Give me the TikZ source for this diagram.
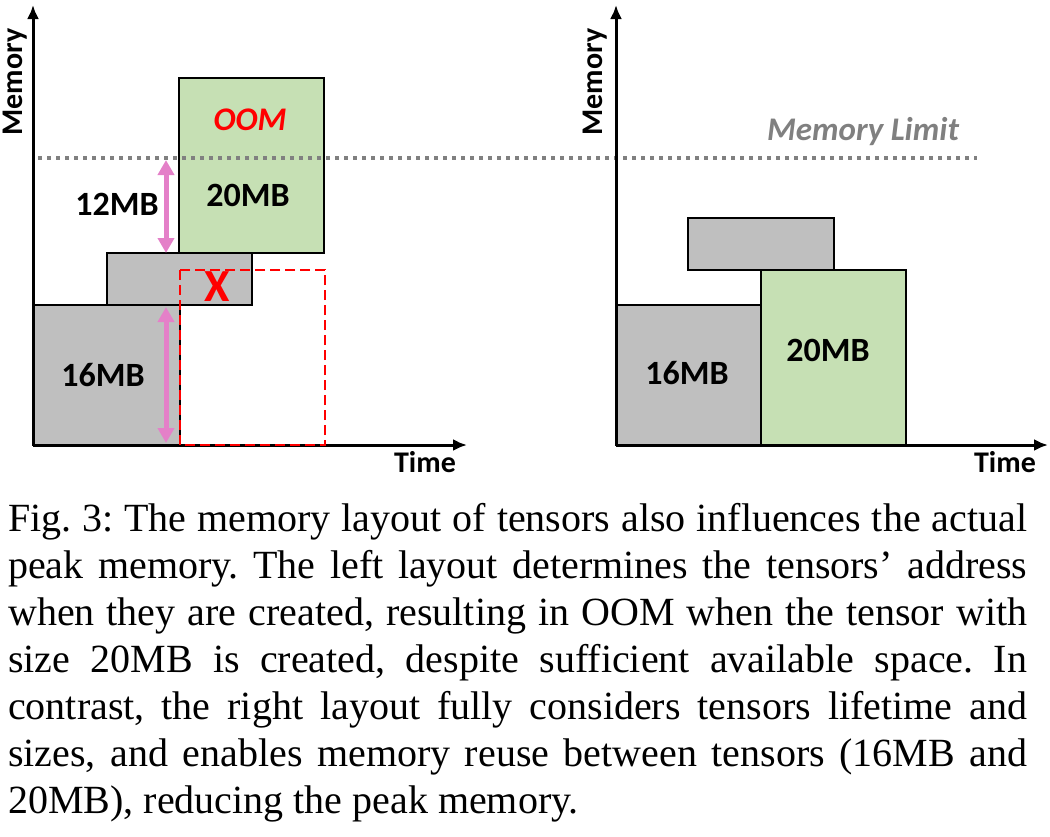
\documentclass[tikz,border=0pt]{standalone}
\usepackage{fontspec}
\setmainfont{Liberation Serif}
\newfontfamily\calibri{Carlito}
\usetikzlibrary{arrows.meta}

\definecolor{blockgray}{RGB}{191,191,191}
\definecolor{blockgreen}{RGB}{198,224,180}
\definecolor{limitgray}{RGB}{128,128,128}
\definecolor{gappink}{RGB}{228,128,200}

\tikzset{
  axis/.style={line width=3pt, -{Latex[length=14pt,width=12pt]}},
  block/.style={draw, line width=2.5pt},
  lbl/.style={font=\calibri\bfseries\fontsize{34}{40}\selectfont},
  axislbl/.style={font=\calibri\bfseries\fontsize{30}{36}\selectfont},
  limit/.style={limitgray, line width=3.5pt, dash pattern=on 4pt off 5pt},
  gap/.style={gappink, line width=5pt, {Triangle[length=15pt,width=16pt]}-{Triangle[length=15pt,width=16pt]}},
  oomrect/.style={red, line width=2.5pt, dash pattern=on 10pt off 5pt},
}

\begin{document}
\begin{tikzpicture}[x=1pt, y=-1pt]
	\useasboundingbox (0,0) rectangle (1050,836);
	%%% Help Lines
%	\draw [thin, help lines] (0,0) grid[step=50] (1050,836);
	%%% Left layout: tensors
	\filldraw[block, fill=blockgray] (33,305) rectangle (180,445);
	\filldraw[block, fill=blockgray] (107,253) rectangle (252,305);
	\filldraw[block, fill=blockgreen] (179,78) rectangle (324,253);
	%%% Right layout: tensors
	\filldraw[block, fill=blockgray] (616,305) rectangle (761,445);
	\filldraw[block, fill=blockgreen] (761,270) rectangle (906,445);
	\filldraw[block, fill=blockgray] (688,218) rectangle (834,270);
	%%% Memory limit
	\draw[limit] (38,158) -- (977,158);
	%%% Axes
	\coordinate (lo) at (33,445);
	\coordinate (ro) at (616,445);
	\draw[axis] (lo) -- (33,5);
	\draw[axis] (lo) -- (467,445);
	\draw[axis] (ro) -- (616,5);
	\draw[axis] (ro) -- (1048,445);
	%%% Wanted place of the new tensor
	\draw[oomrect] (180,270) rectangle (325,445);
	%%% Gaps
	\coordinate (g12t) at (166,160);
	\coordinate (g12b) at (166,253);
	\coordinate (g16t) at (166,307);
	\coordinate (g16b) at (166,443);
	\draw[gap] (g12t) -- (g12b);
	\draw[gap] (g16t) -- (g16b);
	%%% Labels
	\node[axislbl, rotate=90] (memL) at (15,82) {Memory};
	\node[axislbl] (timeL) at (425,462) {Time};
	\node[axislbl, rotate=90] (memR) at (595,82) {Memory};
	\node[axislbl] (timeR) at (1005,462) {Time};
	\node[lbl] (l16) at (103,375) {16MB};
	\node[lbl] (l12) at (117,204) {12MB};
	\node[lbl] (l20) at (248,195) {20MB};
	\node[lbl, red, font=\calibri\bfseries\itshape\fontsize{33}{40}\selectfont] (oom) at (250,120) {OOM};
	\node[lbl, red, font=\calibri\bfseries\fontsize{46}{52}\selectfont] (cross) at (217,287) {X};
	\node[lbl] (r16) at (687,373) {16MB};
	\node[lbl] (r20) at (828,350) {20MB};
	\node[limitgray, font=\calibri\bfseries\itshape\fontsize{33}{40}\selectfont] (limitL) at (863,132) {Memory Limit};
	%%% Caption
	\node[anchor=north west, inner sep=0pt, text width=1019pt, align=justify,
		font=\fontsize{40}{47}\selectfont\frenchspacing] (caption) at (8,503)
		{\tolerance=9999 Fig. 3: The memory layout of tensors also influences the actual\linebreak
		peak memory. The left layout determines the tensors’ address\linebreak
		when they are created, resulting in OOM when the tensor with\linebreak
		size 20MB is created, despite sufficient available space. In\linebreak
		contrast, the right layout fully considers tensors lifetime and\linebreak
		sizes, and enables memory reuse between tensors (16MB and\linebreak
		20MB), reducing the peak memory.};
\end{tikzpicture}
\end{document}
